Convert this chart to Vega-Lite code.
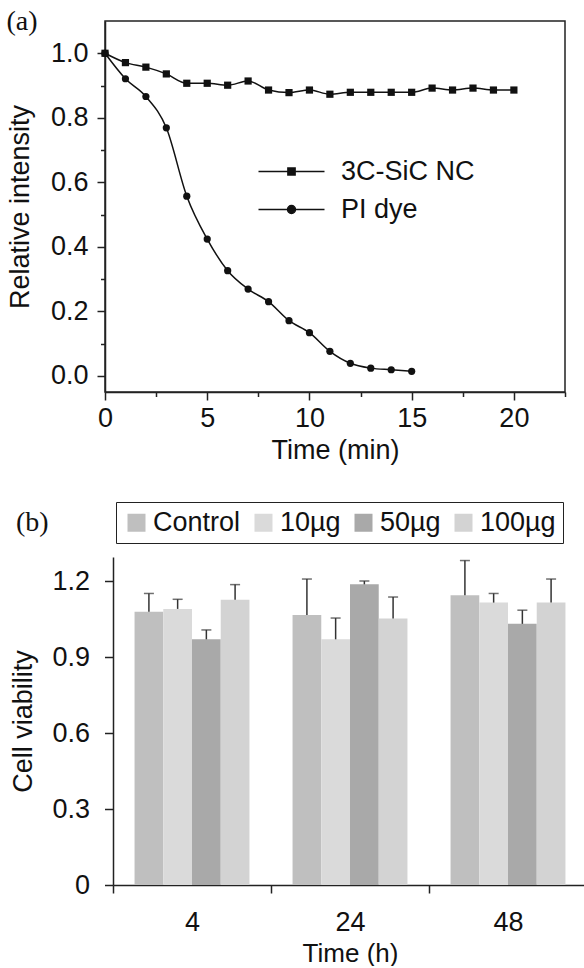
{
  "$schema": "https://vega.github.io/schema/vega-lite/v6.json",
  "background": "white",
  "padding": {"left": 5, "top": 7, "right": 0, "bottom": 0},
  "columns": 1,
  "align": "none",
  "spacing": 37,
  "resolve": {
    "scale": {"color": "independent", "fill": "independent"},
    "legend": {"color": "independent", "fill": "independent"}
  },
  "datasets": {
    "curves": [
      {"t": 0, "series": "3C-SiC NC", "v": 1.0},
      {"t": 1, "series": "3C-SiC NC", "v": 0.971},
      {"t": 2, "series": "3C-SiC NC", "v": 0.957},
      {"t": 3, "series": "3C-SiC NC", "v": 0.936},
      {"t": 4, "series": "3C-SiC NC", "v": 0.907},
      {"t": 5, "series": "3C-SiC NC", "v": 0.907},
      {"t": 6, "series": "3C-SiC NC", "v": 0.901},
      {"t": 7, "series": "3C-SiC NC", "v": 0.914},
      {"t": 8, "series": "3C-SiC NC", "v": 0.886},
      {"t": 9, "series": "3C-SiC NC", "v": 0.878},
      {"t": 10, "series": "3C-SiC NC", "v": 0.886},
      {"t": 11, "series": "3C-SiC NC", "v": 0.873},
      {"t": 12, "series": "3C-SiC NC", "v": 0.879},
      {"t": 13, "series": "3C-SiC NC", "v": 0.879},
      {"t": 14, "series": "3C-SiC NC", "v": 0.879},
      {"t": 15, "series": "3C-SiC NC", "v": 0.879},
      {"t": 16, "series": "3C-SiC NC", "v": 0.892},
      {"t": 17, "series": "3C-SiC NC", "v": 0.886},
      {"t": 18, "series": "3C-SiC NC", "v": 0.892},
      {"t": 19, "series": "3C-SiC NC", "v": 0.886},
      {"t": 20, "series": "3C-SiC NC", "v": 0.886},
      {"t": 0, "series": "PI dye", "v": 1.0},
      {"t": 1, "series": "PI dye", "v": 0.921},
      {"t": 2, "series": "PI dye", "v": 0.866},
      {"t": 3, "series": "PI dye", "v": 0.769},
      {"t": 4, "series": "PI dye", "v": 0.557},
      {"t": 5, "series": "PI dye", "v": 0.424},
      {"t": 6, "series": "PI dye", "v": 0.326},
      {"t": 7, "series": "PI dye", "v": 0.269},
      {"t": 8, "series": "PI dye", "v": 0.230},
      {"t": 9, "series": "PI dye", "v": 0.171},
      {"t": 10, "series": "PI dye", "v": 0.134},
      {"t": 11, "series": "PI dye", "v": 0.076},
      {"t": 12, "series": "PI dye", "v": 0.039},
      {"t": 13, "series": "PI dye", "v": 0.024},
      {"t": 14, "series": "PI dye", "v": 0.019},
      {"t": 15, "series": "PI dye", "v": 0.014}
    ],
    "bars": [
      {"time": "4", "conc": "Control", "value": 1.079, "upper": 1.151},
      {"time": "4", "conc": "10µg", "value": 1.090, "upper": 1.128},
      {"time": "4", "conc": "50µg", "value": 0.970, "upper": 1.007},
      {"time": "4", "conc": "100µg", "value": 1.126, "upper": 1.186},
      {"time": "24", "conc": "Control", "value": 1.066, "upper": 1.208},
      {"time": "24", "conc": "10µg", "value": 0.970, "upper": 1.054},
      {"time": "24", "conc": "50µg", "value": 1.187, "upper": 1.200},
      {"time": "24", "conc": "100µg", "value": 1.052, "upper": 1.137},
      {"time": "48", "conc": "Control", "value": 1.144, "upper": 1.281},
      {"time": "48", "conc": "10µg", "value": 1.115, "upper": 1.151},
      {"time": "48", "conc": "50µg", "value": 1.031, "upper": 1.085},
      {"time": "48", "conc": "100µg", "value": 1.115, "upper": 1.208}
    ]
  },
  "concat": [
    {
      "width": 460,
      "height": 371,
      "view": {"stroke": "#222", "strokeWidth": 1.5},
      "title": {"text": "(a)", "anchor": "start", "frame": "bounds", "font": "Liberation Serif", "fontSize": 28, "fontWeight": "normal", "color": "#111", "baseline": "alphabetic", "offset": 0, "dy": 37},
      "data": {"name": "curves"},
      "encoding": {
        "x": {"field": "t", "type": "quantitative", "scale": {"domain": [0, 22.5], "nice": false, "zero": false},
          "axis": {"title": "Time (min)", "values": [0, 2.5, 5, 7.5, 10, 12.5, 15, 17.5, 20, 22.5],
            "labelExpr": "datum.value % 5 === 0 ? datum.label : ''", "labelOverlap": false, "labelFlush": false,
            "tickSize": {"condition": {"test": "datum.value % 5 === 0", "value": 8}, "value": 4.5},
            "labelPadding": 5, "titlePadding": 6}},
        "y": {"field": "v", "type": "quantitative", "scale": {"domain": [-0.05, 1.1], "nice": false, "zero": false},
          "axis": {"title": "Relative intensity", "values": [0, 0.1, 0.2, 0.3, 0.4, 0.5, 0.6, 0.7, 0.8, 0.9, 1.0],
            "labelExpr": "round(datum.value*10) % 2 === 0 ? format(datum.value, '.1f') : ''", "labelOverlap": false, "labelFlush": false,
            "tickSize": {"condition": {"test": "round(datum.value*10) % 2 === 0", "value": 8}, "value": 4.5},
            "labelPadding": 9, "titlePadding": 16}}
      },
      "layer": [
        {
          "mark": {"type": "line", "interpolate": "monotone", "strokeWidth": 1.5},
          "encoding": {
            "color": {"field": "series", "type": "nominal", "scale": {"domain": ["3C-SiC NC", "PI dye"], "range": ["#111", "#111"]},
              "legend": {"orient": "none", "legendX": 173, "legendY": 137, "title": null, "labelFontSize": 27, "labelColor": "#111",
                "labelOffset": 36, "rowPadding": 10, "symbolSize": 64, "symbolStrokeWidth": 1.5, "symbolType": "M-8.25,0H8.25",
                "encode": {"symbols": {"update": {
                  "shape": {"signal": "datum.value === '3C-SiC NC' ? 'M-8.25,0H8.25M-0.9,-0.9H0.9V0.9H-0.9Z' : 'M-8.25,0H8.25M1,0A1,1,0,1,1,-1,0A1,1,0,1,1,1,0Z'"},
                  "fill": {"value": "#111"}, "stroke": {"value": "#111"}, "strokeWidth": {"value": 1.5}, "opacity": {"value": 1}}}}}}
          }
        },
        {
          "transform": [{"filter": "datum.series === '3C-SiC NC'"}],
          "mark": {"type": "point", "shape": "square", "filled": true, "size": 52, "opacity": 1, "color": "#111"}
        },
        {
          "transform": [{"filter": "datum.series === 'PI dye'"}],
          "mark": {"type": "point", "shape": "circle", "filled": true, "size": 52, "opacity": 1, "color": "#111"}
        }
      ]
    },
    {
      "width": 482,
      "height": 328,
      "view": {"stroke": null},
      "title": {"text": "(b)", "anchor": "start", "frame": "bounds", "font": "Liberation Serif", "fontSize": 28, "fontWeight": "normal", "color": "#111", "baseline": "alphabetic", "offset": 0, "dy": 57, "dx": 6},
      "data": {"name": "bars"},
      "encoding": {
        "x": {"field": "time", "type": "nominal", "sort": ["4", "24", "48"], "scale": {"paddingInner": 0, "paddingOuter": 0, "range": [8, 482]},
          "axis": {"title": "Time (h)", "labelAngle": 0, "tickBand": "extent", "tickSize": 8, "labelPadding": 16, "titlePadding": 5, "titleFontSize": 26}},
        "xOffset": {"field": "conc", "type": "nominal", "sort": ["Control", "10µg", "50µg", "100µg"], "scale": {"paddingInner": 0, "paddingOuter": 0.75}}
      },
      "layer": [
        {
          "mark": {"type": "bar"},
          "encoding": {
            "y": {"field": "value", "type": "quantitative", "scale": {"domain": [0, 1.295], "nice": false},
              "axis": {"title": "Cell viability", "values": [0, 0.3, 0.6, 0.9, 1.2], "format": ".1~f", "offset": -8, "tickSize": 8.5, "labelPadding": 15, "titlePadding": 14}},
            "fill": {"field": "conc", "type": "nominal", "sort": ["Control", "10µg", "50µg", "100µg"],
              "scale": {"domain": ["Control", "10µg", "50µg", "100µg"], "range": ["#bfbfbf", "#dadada", "#a9a9a9", "#d3d3d3"]},
              "legend": {"orient": "none", "legendX": 11, "legendY": -55, "direction": "horizontal", "columns": 4, "title": null, "strokeColor": "#222", "padding": 7,
                "labelFontSize": 27, "labelColor": "#111", "symbolType": "square", "symbolSize": 324, "symbolStrokeWidth": 0, "symbolOpacity": 1,
                "labelOffset": 3, "columnPadding": 9}}
          }
        },
        {
          "mark": {"type": "rule", "strokeWidth": 1.5, "color": "#333"},
          "encoding": {"y": {"field": "value", "type": "quantitative"}, "y2": {"field": "upper"}}
        },
        {
          "mark": {"type": "tick", "size": 10, "thickness": 1.5, "color": "#333"},
          "encoding": {"y": {"field": "upper", "type": "quantitative"}}
        }
      ]
    }
  ],
  "config": {
    "font": "Liberation Sans",
    "axis": {"domainColor": "#222", "tickColor": "#222", "labelColor": "#111", "titleColor": "#111", "grid": false,
      "labelFontSize": 27, "titleFontSize": 27, "titleFontWeight": "normal", "domainWidth": 1.5, "tickWidth": 1.5, "labelFont": "Liberation Sans", "titleFont": "Liberation Sans"}
  }
}
